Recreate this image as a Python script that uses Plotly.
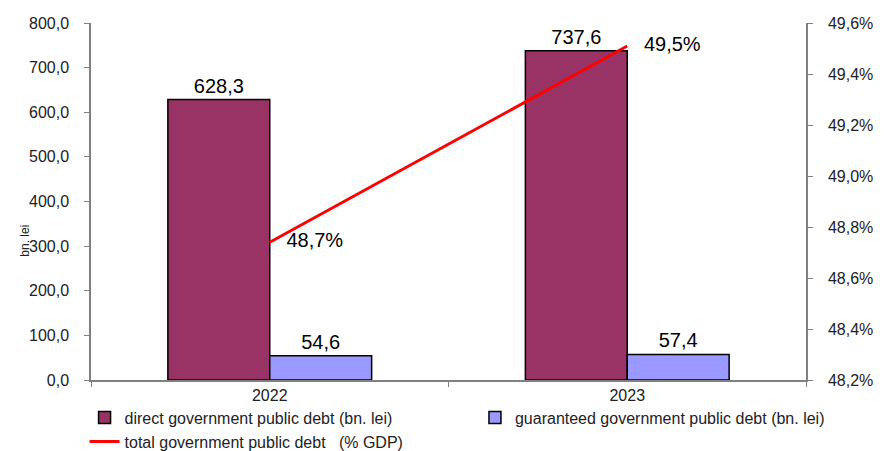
import plotly.graph_objects as go

years = ["2022", "2023"]
direct_debt = [628.3, 737.6]
guaranteed_debt = [54.6, 57.4]
total_pct_gdp = [48.74, 49.51]

FONT = "Liberation Sans, Arial, sans-serif"

fig = go.Figure()
fig.add_trace(go.Bar(
    x=years, y=direct_debt, name="direct government public debt (bn. lei)",
    marker=dict(color="#993366", line=dict(color="#000000", width=1.5)),
    texttemplate="%{y:.1f}", textposition="outside",
    textfont=dict(size=20, color="#000000", family=FONT), cliponaxis=False,
    legend="legend",
))
fig.add_trace(go.Bar(
    x=years, y=guaranteed_debt, name="guaranteed government public debt (bn. lei)",
    marker=dict(color="#9999FF", line=dict(color="#000000", width=1.5)),
    texttemplate="%{y:.1f}", textposition="outside",
    textfont=dict(size=20, color="#000000", family=FONT), cliponaxis=False,
    legend="legend2",
))
fig.add_trace(go.Scatter(
    x=years, y=total_pct_gdp, name="total government public debt   (% GDP)",
    yaxis="y2", mode="lines+text", line=dict(color="#FF0000", width=3),
    texttemplate="   %{y:.1f}%", textposition="middle right",
    textfont=dict(size=20, color="#000000", family=FONT), cliponaxis=False,
    legend="legend",
))

axis_common = dict(showgrid=False, showline=True, linecolor="#808080", linewidth=1.5,
                   ticks="outside", ticklen=5, tickcolor="#808080", zeroline=False,
                   automargin=False,
                   tickfont=dict(size=16, color="#222222", family=FONT))

fig.update_layout(
    width=884, height=451,
    margin=dict(l=91, r=78, t=23, b=71, autoexpand=False),
    plot_bgcolor="white", paper_bgcolor="white",
    separators=", ",
    barmode="group", bargap=0.43, bargroupgap=0,
    font=dict(family=FONT, color="#222222"),
    xaxis=dict(**axis_common, tickson="boundaries", type="category"),
    yaxis=dict(**axis_common, range=[0, 800], dtick=100, tickformat=".1f",
               ticklabelstandoff=12),
    yaxis2=dict(**axis_common, overlaying="y", side="right", range=[48.2, 49.6],
                dtick=0.2, tickformat=".1f", ticksuffix="%", ticklabelstandoff=12),
    legend=dict(x=-0.009, y=-0.058, xanchor="left", yanchor="top", orientation="v",
                traceorder="normal", font=dict(size=16, color="#222222", family=FONT),
                tracegroupgap=0, bgcolor="rgba(0,0,0,0)"),
    legend2=dict(x=0.537, y=-0.058, xanchor="left", yanchor="top", orientation="v",
                 font=dict(size=16, color="#222222", family=FONT),
                 bgcolor="rgba(0,0,0,0)"),
    annotations=[dict(text="bn. lei", x=-0.105, y=0.39, xref="paper", yref="paper",
                      textangle=-90, showarrow=False,
                      font=dict(size=12, color="#222222", family=FONT))],
)

fig.write_html("out.html", config={"displayModeBar": False},
               post_script="document.body.style.margin='0px';")
